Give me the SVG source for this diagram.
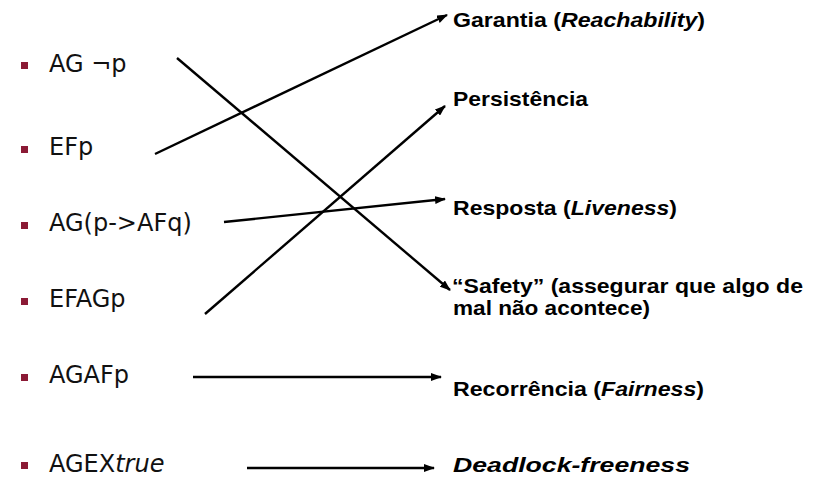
<svg xmlns="http://www.w3.org/2000/svg" width="825" height="477" viewBox="0 0 825 477">
<style>
.item{font-family:"DejaVu Sans","Liberation Sans",sans-serif;font-size:24px;fill:#111;}
.bul{fill:#8b1a35;}
.lab{font-family:"Liberation Sans",Arial,sans-serif;font-size:20.5px;font-weight:bold;fill:#000;}
.it{font-style:italic;}
.conn{stroke:#000;stroke-width:2.4;fill:none;marker-end:url(#ah);}
</style>
<defs>
<marker id="ah" markerUnits="userSpaceOnUse" markerWidth="11" markerHeight="8" refX="10" refY="4" orient="auto">
<path d="M0,0 L11,4 L0,8 Z" fill="#000"/>
</marker>
</defs>
<rect width="825" height="477" fill="#fff"/>
<g id="n-agnotp"><rect class="bul" x="21" y="62" width="7" height="7"/><text class="item" x="49" y="72">AG ¬p</text></g>
<g id="n-efp"><rect class="bul" x="21" y="146" width="7" height="7"/><text class="item" x="49" y="155">EFp</text></g>
<g id="n-agpafq"><rect class="bul" x="21" y="222" width="7" height="7"/><text class="item" x="49" y="231">AG(p-&gt;AFq)</text></g>
<g id="n-efagp"><rect class="bul" x="21" y="298" width="7" height="7"/><text class="item" x="49" y="307">EFAGp</text></g>
<g id="n-agafp"><rect class="bul" x="21" y="374" width="7" height="7"/><text class="item" x="49" y="383">AGAFp</text></g>
<g id="n-agextrue"><rect class="bul" x="21" y="462" width="7" height="7"/><text class="item" x="49" y="472">AGEX<tspan class="it">true</tspan></text></g>
<g id="n-garantia"><text class="lab" x="453" y="27" textLength="252" lengthAdjust="spacingAndGlyphs">Garantia (<tspan class="it">Reachability</tspan>)</text></g>
<g id="n-persistencia"><text class="lab" x="453" y="106" textLength="135" lengthAdjust="spacingAndGlyphs">Persistência</text></g>
<g id="n-resposta"><text class="lab" x="453" y="215" textLength="224" lengthAdjust="spacingAndGlyphs">Resposta (<tspan class="it">Liveness</tspan>)</text></g>
<g id="n-safety"><text class="lab" x="452" y="293" textLength="351" lengthAdjust="spacingAndGlyphs">“Safety” (assegurar que algo de</text><text class="lab" x="453" y="315" textLength="197" lengthAdjust="spacingAndGlyphs">mal não acontece)</text></g>
<g id="n-recorrencia"><text class="lab" x="453" y="396" textLength="251" lengthAdjust="spacingAndGlyphs">Recorrência (<tspan class="it">Fairness</tspan>)</text></g>
<g id="n-deadlock"><text class="lab it" x="453" y="472" textLength="237" lengthAdjust="spacingAndGlyphs">Deadlock-freeness</text></g>
<g id="connectors">
<line class="conn" x1="177" y1="58" x2="450" y2="290"/>
<line class="conn" x1="155" y1="154" x2="447" y2="15"/>
<line class="conn" x1="224" y1="222" x2="445" y2="199"/>
<line class="conn" x1="205" y1="314" x2="445" y2="106"/>
<line class="conn" x1="193" y1="377" x2="441" y2="377"/>
<line class="conn" x1="247" y1="468" x2="434" y2="468"/>
</g>
</svg>
